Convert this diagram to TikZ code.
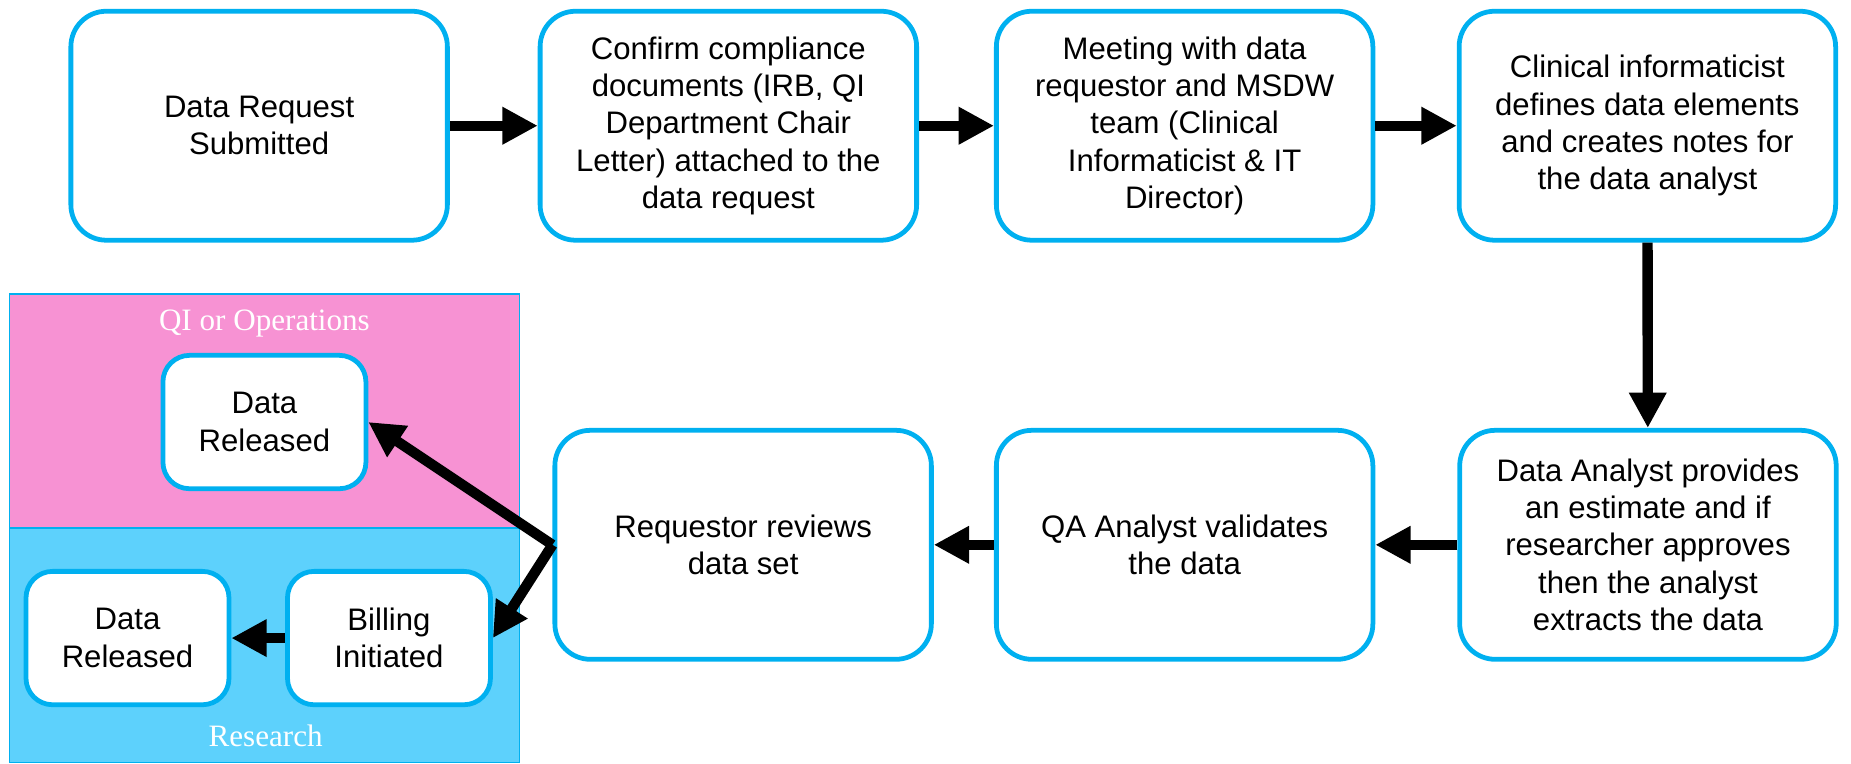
\documentclass[tikz,border=0pt]{standalone}
\usepackage{fontspec}
\setmainfont{Liberation Serif}
\setsansfont{Liberation Sans}
\usepackage{xcolor}
\usetikzlibrary{arrows.meta}
\usetikzlibrary{positioning}
\definecolor{boxblue}{HTML}{00B0F0}
\definecolor{qipink}{HTML}{F792D3}
\definecolor{resblue}{HTML}{5DD1FC}

\begin{document}
\begin{tikzpicture}[x=0.02cm, y=-0.02cm,
		stepbox/.style={draw=boxblue, line width=2.3pt, fill=white, rounded corners=0.6cm, minimum width=6.38cm, minimum height=3.88cm, inner sep=2pt, align=center, font=\sffamily\fontsize{15}{18}\selectfont},
		smallbox/.style={stepbox, rounded corners=0.45cm, minimum width=3.44cm, minimum height=2.26cm},
		flow/.style={line width=5pt, -{Triangle[length=17pt,width=17pt]}},
		zone/.style={draw=boxblue, line width=0.8pt},
		zonelabel/.style={text=white, font=\fontsize{15}{18}\selectfont}]
		\useasboundingbox (0,0) rectangle (1568,647);
		% the two release paths
		\filldraw[zone, fill=qipink] (8,249) rectangle (440,447);
		\filldraw[zone, fill=resblue] (8,447) rectangle (440,646);
		\node[zonelabel] (qilabel) at (224,274) {QI or Operations};
		\node[zonelabel] (reslabel) at (225,623) {Research};
		% top row
		\node[stepbox] (b1) at (219.5,106.5) {Data Request\\Submitted};
		\node[stepbox] (b2) at (617,106.5) {Confirm compliance\\documents (IRB, QI\\Department Chair\\Letter) attached to the\\data request};
		\node[stepbox] (b3) at (1003.5,106.5) {Meeting with data\\requestor and MSDW\\team (Clinical\\Informaticist \& IT\\Director)};
		\node[stepbox] (b4) at (1395.5,106.5) {Clinical informaticist\\defines data elements\\and creates notes for\\the data analyst};
		% bottom row
		\node[stepbox] (b5) at (1396,461.5) {Data Analyst provides\\an estimate and if\\researcher approves\\then the analyst\\extracts the data};
		\node[stepbox] (b6) at (1003.5,461.5) {QA Analyst validates\\the data};
		\node[stepbox] (b7) at (629.5,461.5) {Requestor reviews\\data set};
		\node[smallbox] (d1) at (224,357.5) {Data\\Released};
		\node[smallbox] (bill) at (329.5,540.5) {Billing\\Initiated};
		\node[smallbox] (d2) at (108,540.5) {Data\\Released};
		\foreach \a/\b in {b1/b2, b2/b3, b3/b4, b4/b5, b5/b6, b6/b7, bill/d2} {
			\draw[flow] (\a) -- (\b);
		}
		\draw[flow] (b7.west) -- (d1.east);
		\draw[flow] (b7.west) -- (bill.east);
	\end{tikzpicture}
\end{document}
